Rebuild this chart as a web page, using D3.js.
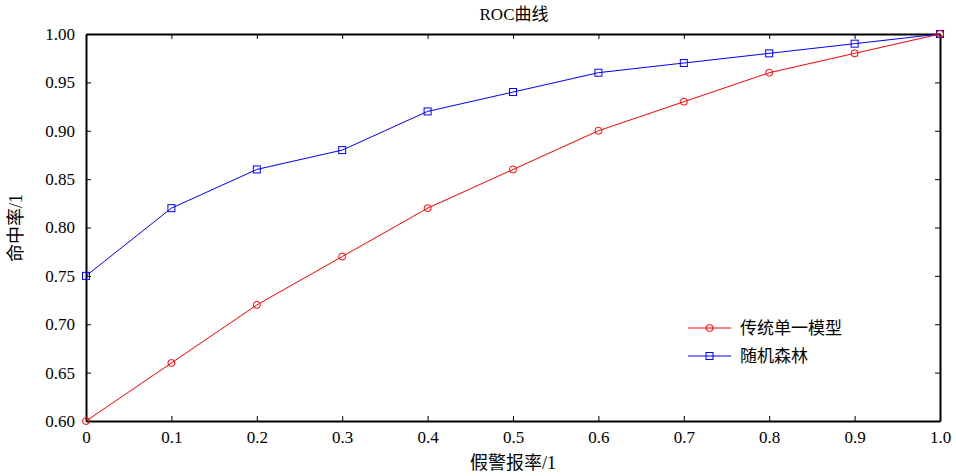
<!DOCTYPE html>
<html><head><meta charset="utf-8">
<script src="https://cdn.jsdelivr.net/npm/d3@7"></script>
<style>body{margin:0;background:#fff}svg{display:block}text{font-family:"Liberation Serif","Noto Sans CJK SC",serif;}</style>
</head><body><svg id="c" width="956" height="476"></svg>
<script>
const fpr = [0,0.1,0.2,0.3,0.4,0.5,0.6,0.7,0.8,0.9,1.0];
const single = [0.60,0.66,0.72,0.77,0.82,0.86,0.90,0.93,0.96,0.98,1.00];
const forest = [0.75,0.82,0.86,0.88,0.92,0.94,0.96,0.97,0.98,0.99,1.00];
const xTicks = [0,0.1,0.2,0.3,0.4,0.5,0.6,0.7,0.8,0.9,1.0];
const xTickLabels = ["0","0.1","0.2","0.3","0.4","0.5","0.6","0.7","0.8","0.9","1.0"];
const yTicks = [0.60,0.65,0.70,0.75,0.80,0.85,0.90,0.95,1.00];
const seriesNames = ["传统单一模型","随机森林"];
const title = "ROC曲线", xLabel = "假警报率/1", yLabel = "命中率/1";

const svg = d3.select("#c");
const L=86,R=940,T=34,B=421;
const x = d3.scaleLinear().domain([0,1]).range([L,R]);
const y = d3.scaleLinear().domain([0.6,1.0]).range([B,T]);

const g = svg.append("g");
const xb = g.append("g").attr("transform",`translate(0,${B})`)
  .call(d3.axisBottom(x).tickValues(xTicks).tickSizeInner(-5).tickSizeOuter(0).tickPadding(10).tickFormat((d,i)=>xTickLabels[i]));
const yl = g.append("g").attr("transform",`translate(${L},0)`)
  .call(d3.axisLeft(y).tickValues(yTicks).tickSizeInner(-5).tickSizeOuter(0).tickPadding(11).tickFormat(d3.format(".2f")));
const xt = g.append("g").attr("transform",`translate(0,${T})`)
  .call(d3.axisTop(x).tickValues(xTicks).tickSizeInner(-5).tickSizeOuter(0).tickFormat(""));
const yr = g.append("g").attr("transform",`translate(${R},0)`)
  .call(d3.axisRight(y).tickValues(yTicks).tickSizeInner(-5).tickSizeOuter(0).tickFormat(""));
[xb,yl,xt,yr].forEach(a=>{
  a.select(".domain").attr("stroke","#000").attr("stroke-width",2);
  a.selectAll(".tick line").attr("stroke","#000").attr("stroke-width",1);
  a.selectAll("text").attr("font-size",17).attr("fill","#000").style("font-family","'Liberation Serif',serif");
});

const line = d3.line().x((d,i)=>x(fpr[i])).y(d=>y(d));
const series = [{v:forest,c:"#0000ff",m:"sq"},{v:single,c:"#ff0000",m:"ci"}];
series.forEach(s=>{
  svg.append("path").attr("d",line(s.v)).attr("fill","none").attr("stroke",s.c).attr("stroke-width",1);
});
function marker(sel,m,c,cx,cy){
  if(m==="ci") sel.append("circle").attr("cx",cx).attr("cy",cy).attr("r",3.5).attr("fill","none").attr("stroke",c).attr("stroke-width",1);
  else sel.append("rect").attr("x",cx-3.5).attr("y",cy-3.5).attr("width",7).attr("height",7).attr("fill","none").attr("stroke",c).attr("stroke-width",1);
}
series.forEach(s=>{
  s.v.forEach((d,i)=>marker(svg,s.m,s.c,x(fpr[i]),y(d)));
});

svg.append("text").attr("x",514).attr("y",20).attr("text-anchor","middle").attr("font-size",17).text(title);
svg.append("text").attr("x",513).attr("y",469).attr("text-anchor","middle").attr("font-size",18).text(xLabel);
svg.append("text").attr("transform","translate(22,228) rotate(-90)").attr("text-anchor","middle").attr("font-size",18).text(yLabel);

const leg = [{n:seriesNames[0],c:"#ff0000",m:"ci"},{n:seriesNames[1],c:"#0000ff",m:"sq"}];
leg.forEach((d,i)=>{
  const ly = 328 + i*28;
  svg.append("line").attr("x1",688).attr("x2",731).attr("y1",ly).attr("y2",ly).attr("stroke",d.c).attr("stroke-width",1);
  marker(svg,d.m,d.c,709.5,ly);
  svg.append("text").attr("x",740).attr("y",ly+6).attr("font-size",17).text(d.n);
});
</script></body></html>
